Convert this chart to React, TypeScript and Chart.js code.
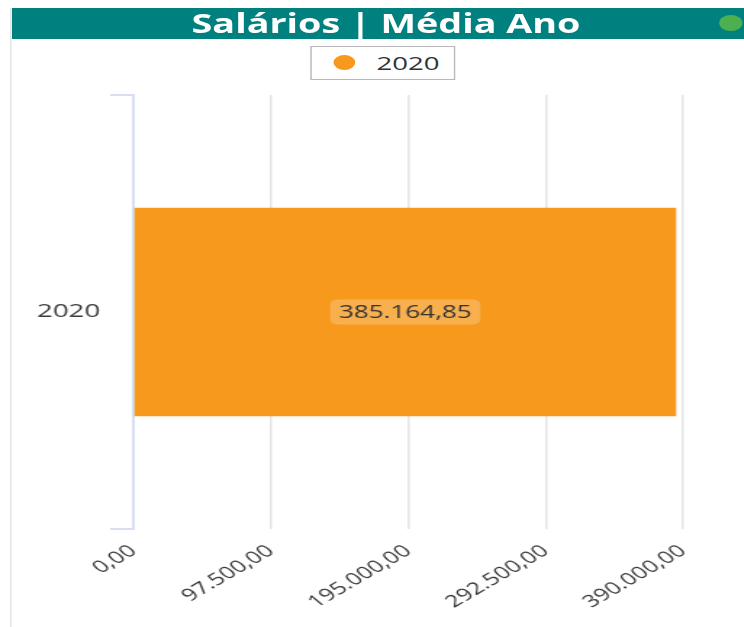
import { useEffect, useRef } from 'react';
import { Chart, registerables } from 'chart.js';

Chart.register(...registerables);

const titleText = 'Salários | Média Ano';
const categories = ['2020'];
const seriesName = '2020';
const seriesValues = [385164.85];
const xTickValues = [0, 97500, 195000, 292500, 390000];

const S = 1.45; // horizontal stretch of the reference
const FONT = '"Open Sans", "Noto Sans", sans-serif';
const BAR_COLOR = '#F7991C';

function fmt(v: number): string {
  const fixed = v.toFixed(2);
  const [i, d] = fixed.split('.');
  return i.replace(/\B(?=(\d{3})+(?!\d))/g, '.') + ',' + d;
}

const barLabelPlugin = {
  id: 'barLabelPlugin',
  afterDatasetsDraw(chart: any) {
    const ctx = chart.ctx;
    const meta = chart.getDatasetMeta(0);
    meta.data.forEach((bar: any, i: number) => {
      const p = bar.getProps(['x', 'y', 'base'], true);
      const cx = (p.x + p.base) / 2;
      const cy = p.y;
      const text = fmt(seriesValues[i]);
      ctx.save();
      ctx.font = `18px ${FONT}`;
      const w = ctx.measureText(text).width + 12;
      const h = 25;
      ctx.fillStyle = 'rgba(255,255,255,0.22)';
      ctx.beginPath();
      (ctx as any).roundRect(cx - w / 2, cy - h / 2, w, h, 5);
      ctx.fill();
      ctx.fillStyle = '#333333';
      ctx.textAlign = 'center';
      ctx.textBaseline = 'middle';
      ctx.fillText(text, cx, cy + 1);
      ctx.restore();
    });
  },
};

export default function App() {
  const canvasRef = useRef<HTMLCanvasElement | null>(null);

  useEffect(() => {
    if (!canvasRef.current) return;
    const chart = new Chart(canvasRef.current, {
      type: 'bar',
      data: {
        labels: categories,
        datasets: [
          {
            label: seriesName,
            data: seriesValues,
            backgroundColor: BAR_COLOR,
            borderWidth: 0,
            categoryPercentage: 0.8,
            barPercentage: 0.6,
          },
        ],
      },
      options: {
        indexAxis: 'y',
        responsive: false,
        animation: false,
        devicePixelRatio: 1,
        layout: { padding: { top: 95, right: 42, left: 0, bottom: 0 } },
        plugins: {
          legend: { display: false },
          tooltip: { enabled: false },
          title: { display: false },
        },
        scales: {
          x: {
            type: 'linear',
            min: 0,
            max: 390000,
            afterBuildTicks: (axis: any) => {
              axis.ticks = xTickValues.map((v) => ({ value: v }));
            },
            afterFit: (axis: any) => {
              axis.height = 98;
            },
            grid: {
              color: '#e4e4e4',
              lineWidth: 1.5,
              drawTicks: false,
              tickLength: 0,
            },
            border: { display: false },
            ticks: {
              autoSkip: false,
              minRotation: 40,
              maxRotation: 40,
              padding: 12,
              color: '#3a3a3a',
              font: { family: FONT, size: 17 },
              callback: (v: any) => fmt(Number(v)),
            },
          },
          y: {
            type: 'category',
            afterFit: (axis: any) => {
              axis.width = 92;
            },
            grid: {
              drawOnChartArea: false,
              drawTicks: true,
              tickLength: 16,
              color: '#d9dff0',
              lineWidth: 2,
            },
            border: { display: true, color: '#d9dff0', width: 2 },
            ticks: {
              padding: 7,
              color: '#3a3a3a',
              font: { family: FONT, size: 19 },
            },
          },
        },
      },
      plugins: [barLabelPlugin],
    });
    return () => chart.destroy();
  }, []);

  const L = (px: number) => px / S;

  return (
    <div
      style={{
        position: 'fixed',
        left: 0,
        top: 0,
        width: 744,
        height: 627,
        overflow: 'hidden',
        background: '#ffffff',
      }}
    >
      <div
        style={{
          position: 'absolute',
          left: 0,
          top: 0,
          width: L(744),
          height: 627,
          transform: `scaleX(${S})`,
          transformOrigin: '0 0',
        }}
      >
        <canvas
          ref={canvasRef}
          width={513}
          height={627}
          style={{ position: 'absolute', left: 0, top: 0, width: 513, height: 627 }}
        />
        <div
          style={{
            position: 'absolute',
            left: L(10.5),
            top: 8,
            width: 1,
            height: 627,
            background: '#e2e2e2',
          }}
        />
        <div
          style={{
            position: 'absolute',
            left: L(12),
            top: 8,
            width: 2 * (L(386) - L(12)),
            height: 31,
            background: '#00807e',
            color: '#ffffff',
            fontFamily: FONT,
            fontWeight: 700,
            fontSize: 26,
            lineHeight: '31px',
            textAlign: 'center',
            whiteSpace: 'nowrap',
          }}
        >
          {titleText}
        </div>
        <div
          style={{
            position: 'absolute',
            left: L(730.5) - 8,
            top: 14.5,
            width: 16,
            height: 16,
            borderRadius: '50%',
            background: '#4caf50',
          }}
        />
        <div
          style={{
            position: 'absolute',
            left: L(310),
            top: 46,
            width: L(455) - L(310),
            height: 34,
            boxSizing: 'border-box',
            border: '1px solid #b9b9b9',
            background: '#ffffff',
          }}
        >
          <div
            style={{
              position: 'absolute',
              left: L(345) - L(310) - 8.5,
              top: 16 - 8,
              width: 15,
              height: 15,
              borderRadius: '50%',
              background: BAR_COLOR,
            }}
          />
          <div
            style={{
              position: 'absolute',
              left: L(375) - L(310),
              top: 0,
              height: 32,
              lineHeight: '32px',
              fontFamily: FONT,
              fontSize: 19,
              color: '#333333',
              whiteSpace: 'nowrap',
            }}
          >
            {seriesName}
          </div>
        </div>
      </div>
    </div>
  );
}
